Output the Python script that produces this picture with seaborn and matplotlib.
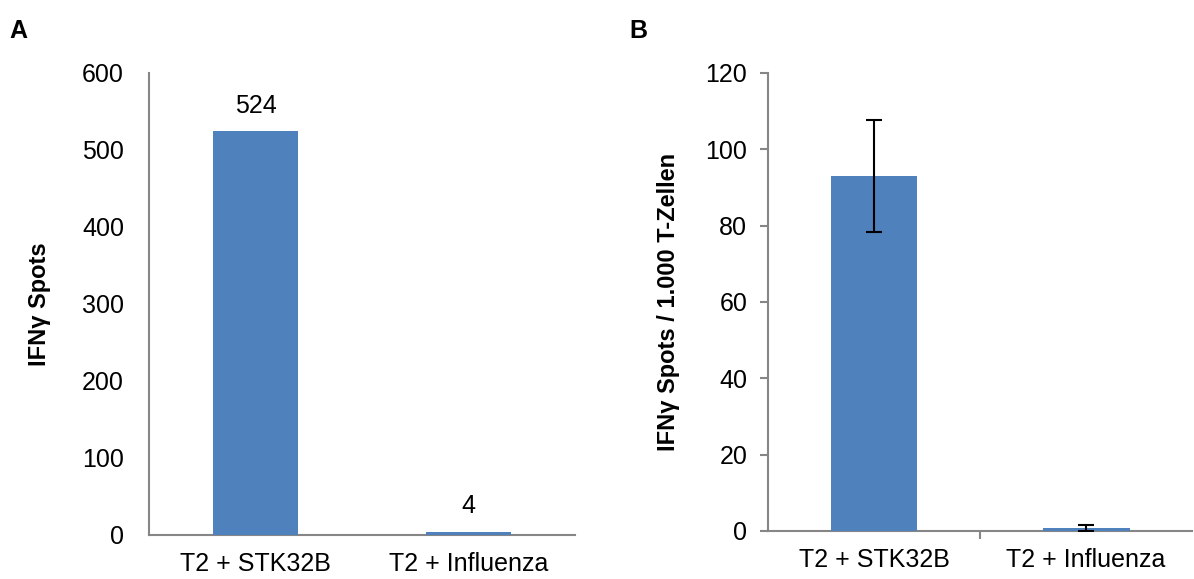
import matplotlib
matplotlib.use("Agg")
import matplotlib.pyplot as plt
import seaborn as sns
import pandas as pd

# data
categories = ["T2 + STK32B", "T2 + Influenza"]
spots_a = [524, 4]
spots_b = [93.0, 0.8]
err_b = [14.7, 0.7]

bar_color = "#4F81BD"
spine_color = "#868686"

sns.set_style("white")
plt.rcParams["font.family"] = ["Liberation Sans", "DejaVu Sans"]
plt.rcParams["text.color"] = "black"
plt.rcParams["axes.labelcolor"] = "black"
plt.rcParams["xtick.color"] = "black"
plt.rcParams["ytick.color"] = "black"

fig = plt.figure(figsize=(11.94, 5.79), dpi=100)
ax_a = fig.add_axes([0.1248, 0.076, 0.357, 0.798])
ax_b = fig.add_axes([0.6432, 0.083, 0.3552, 0.791])

df_a = pd.DataFrame({"cat": categories, "val": spots_a})
df_b = pd.DataFrame({"cat": categories, "val": spots_b})

# =========================
# PANEL A
# =========================
sns.barplot(data=df_a, x="cat", y="val", color=bar_color, width=0.4,
            saturation=1, linewidth=0, ax=ax_a)
ax_a.set_xlim(-0.5, 1.5)
ax_a.set_ylim(0, 600)
ax_a.set_yticks(range(0, 601, 100))
for i, v in enumerate(spots_a):
    ax_a.text(i, v + 18, str(v), ha="center", va="bottom", fontsize=18)
ax_a.set_xlabel("")
ax_a.set_ylabel("IFNγ Spots", fontsize=17, fontweight="bold", labelpad=22)
ax_a.tick_params(axis="both", length=0, labelsize=18)
ax_a.tick_params(axis="y", pad=18)
ax_a.tick_params(axis="x", pad=12)

# =========================
# PANEL B
# =========================
sns.barplot(data=df_b, x="cat", y="val", color=bar_color, width=0.41,
            saturation=1, linewidth=0, ax=ax_b)
ax_b.errorbar(range(len(categories)), spots_b, yerr=err_b, fmt="none",
              ecolor="black", elinewidth=1.5, capsize=6, capthick=1.5,
              zorder=4)
ax_b.set_xlim(-0.5, 1.5)
ax_b.set_ylim(0, 120)
ax_b.set_yticks(range(0, 121, 20))
ax_b.set_xticks([0.5], minor=True)
ax_b.set_xlabel("")
ax_b.set_ylabel("IFNγ Spots / 1.000 T-Zellen", fontsize=17, fontweight="bold",
                labelpad=18)
ax_b.tick_params(axis="x", which="major", length=0, labelsize=18, pad=12)
ax_b.tick_params(axis="x", which="minor", length=6, width=1.5,
                 color=spine_color, direction="out", bottom=True)
ax_b.tick_params(axis="y", length=6, width=1.5, color=spine_color,
                 labelcolor="black", direction="out", left=True,
                 labelsize=18, pad=9)

for ax in (ax_a, ax_b):
    sns.despine(ax=ax)
    for s in ("left", "bottom"):
        ax.spines[s].set_color(spine_color)
        ax.spines[s].set_linewidth(1.5)
        ax.spines[s].set_zorder(1)
    for p in ax.patches:
        p.set_zorder(3)
        p.set_clip_on(False)

fig.text(0.008, 0.935, "A", fontsize=18, fontweight="bold")
fig.text(0.527, 0.935, "B", fontsize=18, fontweight="bold")

fig.savefig("out.png", dpi=100)
